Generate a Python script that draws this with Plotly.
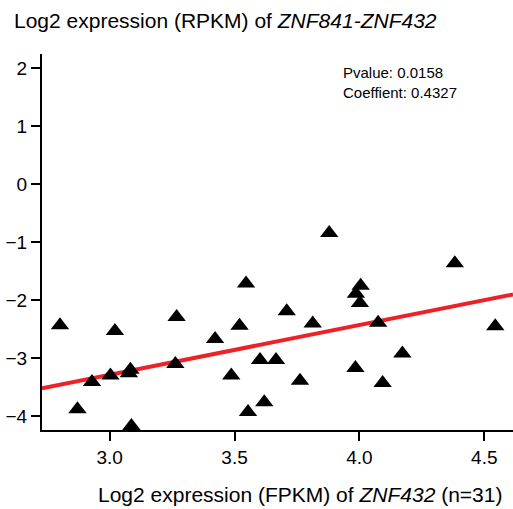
import numpy as np
import plotly.graph_objects as go

# Log2 expression of ZNF432 (FPKM) vs the ZNF841-ZNF432 readthrough (RPKM)
znf432_fpkm = [2.801, 2.871, 2.929, 3.003, 3.021, 3.083, 3.077, 3.087, 3.268, 3.263,
               3.422, 3.487, 3.520, 3.546, 3.554, 3.602, 3.619, 3.666, 3.709, 3.762,
               3.813, 3.879, 4.005, 3.986, 4.002, 4.075, 4.172, 3.984, 4.093, 4.382,
               4.544]
readthrough_rpkm = [-2.43, -3.88, -3.41, -3.30, -2.53, -3.20, -3.26, -4.17, -2.29, -3.10,
                    -2.67, -3.30, -2.44, -1.71, -3.93, -3.03, -3.76, -3.03, -2.19, -3.39,
                    -2.40, -0.84, -1.75, -1.89, -2.05, -2.39, -2.92, -3.17, -3.43, -1.36,
                    -2.45]

x_ticks = [3.0, 3.5, 4.0, 4.5]
y_ticks = [-4, -3, -2, -1, 0, 1, 2]
x_range = [2.729, 4.615]
y_range = [-4.24, 2.25]

pvalue = "0.0158"
coefficient = "0.4327"

# fitted trend line (intercept and slope of the reported fit)
fit_intercept = -5.86
fit_slope = 0.858

fit_x = np.array(x_range)
fit_y = fit_intercept + fit_slope * fit_x

FONT = "Liberation Sans, Arial, Helvetica, sans-serif"

fig = go.Figure()
fig.add_trace(go.Scatter(
    x=fit_x, y=fit_y, mode="lines",
    line=dict(color="#ec2227", width=4),
    hoverinfo="skip", showlegend=False,
))
fig.add_trace(go.Scatter(
    x=znf432_fpkm, y=readthrough_rpkm, mode="markers",
    marker=dict(symbol="triangle-up", size=16, color="black", line=dict(width=0)),
    showlegend=False,
))

W, H = 513, 509
L, R, T, B = 42, 0, 54, 79
plot_h = H - T - B
plot_w = W - L - R


def px(xp):
    return (xp - L) / plot_w


def py(yp):
    return (H - B - yp) / plot_h


axis_common = dict(
    showline=True, linewidth=2, linecolor="black",
    ticks="outside", ticklen=9, tickwidth=2, tickcolor="black",
    showgrid=False, zeroline=False,
    tickfont=dict(family=FONT, size=19, color="black"),
    automargin=False,
)

fig.update_layout(
    width=W, height=H,
    margin=dict(l=L, r=R, t=T, b=B, autoexpand=False),
    paper_bgcolor="white", plot_bgcolor="white",
    xaxis=dict(range=x_range, tickvals=x_ticks, tickformat=".1f", **axis_common),
    yaxis=dict(range=y_range, tickvals=y_ticks, **axis_common),
    font=dict(family=FONT, color="black"),
    annotations=[
        dict(text="Log2 expression (RPKM) of <i>ZNF841-ZNF432</i>",
             xref="paper", yref="paper", x=px(12), y=py(21),
             xanchor="left", yanchor="middle", showarrow=False,
             font=dict(family=FONT, size=21, color="black")),
        dict(text="Log2 expression (FPKM) of <i>ZNF432</i> (n=31)",
             xref="paper", yref="paper", x=px(300), y=py(494),
             xanchor="center", yanchor="middle", showarrow=False,
             font=dict(family=FONT, size=21, color="black")),
        dict(text=f"Pvalue: {pvalue}",
             xref="paper", yref="paper", x=px(341), y=py(73),
             xanchor="left", yanchor="middle", showarrow=False,
             font=dict(family=FONT, size=15, color="black")),
        dict(text=f"Coeffient: {coefficient}",
             xref="paper", yref="paper", x=px(341), y=py(92),
             xanchor="left", yanchor="middle", showarrow=False,
             font=dict(family=FONT, size=15, color="black")),
    ],
)

fig.write_html("out.html")
